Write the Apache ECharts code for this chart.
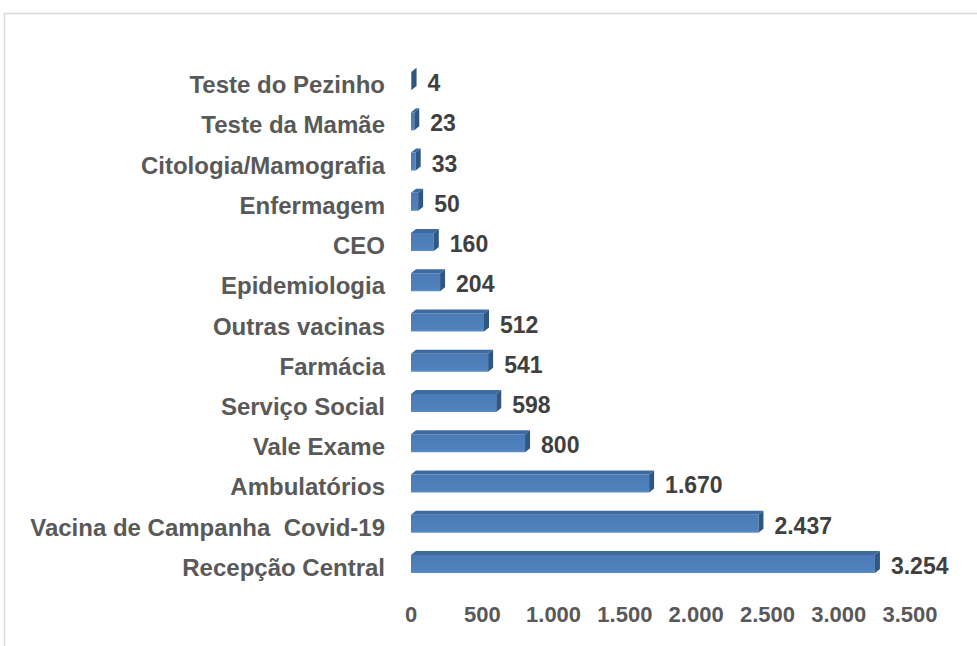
<!DOCTYPE html>
<html>
<head>
<meta charset="utf-8">
<script src="https://cdn.jsdelivr.net/npm/echarts@6/dist/echarts.min.js"></script>
<style>
  html, body { margin: 0; padding: 0; background: #fff; }
  #chart { width: 977px; height: 646px; }
</style>
</head>
<body>
<div id="chart"></div>
<script>
  // categorias (de cima para baixo) e valores
  var categories = ['Teste do Pezinho', 'Teste da Mamãe', 'Citologia/Mamografia', 'Enfermagem', 'CEO',
    'Epidemiologia', 'Outras vacinas', 'Farmácia', 'Serviço Social', 'Vale Exame', 'Ambulatórios',
    'Vacina de Campanha  Covid-19', 'Recepção Central'];
  var values = [4, 23, 33, 50, 160, 204, 512, 541, 598, 800, 1670, 2437, 3254];
  var axisTicks = [0, 500, 1000, 1500, 2000, 2500, 3000, 3500];

  function fmt(n) {
    return String(n).replace(/\B(?=(\d{3})+(?!\d))/g, '.');
  }

  var chart = echarts.init(document.getElementById('chart'), null, {renderer: 'svg'});
  var font = '"Liberation Sans", Arial, sans-serif';

  var option = {
    animation: false,
    graphic: [{
      type: 'rect',
      shape: {x: 4.5, y: 13.5, width: 1000, height: 700},
      style: {fill: 'none', stroke: '#d9d9d9', lineWidth: 1.5},
      silent: true
    }],
    grid: {left: 411, right: 67, top: 60, bottom: 63},
    xAxis: {
      type: 'value',
      min: axisTicks[0],
      max: axisTicks[axisTicks.length - 1],
      interval: 500,
      axisLine: {show: false},
      axisTick: {show: false},
      splitLine: {show: false},
      axisLabel: {
        margin: 20,
        color: '#595959',
        fontFamily: font,
        fontWeight: 'bold',
        fontSize: 22,
        formatter: function (v) { return fmt(v); }
      }
    },
    yAxis: {
      type: 'category',
      inverse: true,
      data: categories,
      axisLine: {show: false},
      axisTick: {show: false},
      axisLabel: {
        margin: 26,
        formatter: function (v) { return '{c|' + v + '}'; },
        rich: {
          c: {
            color: '#595959',
            fontFamily: font,
            fontWeight: 'bold',
            fontSize: 24,
            padding: [9, 0, 0, 0]
          }
        }
      }
    },
    series: [{
      type: 'custom',
      encode: {x: 0, y: 1},
      data: values.map(function (v, i) { return [v, i]; }),
      renderItem: function (params, api) {
        var val = api.value(0), idx = api.value(1);
        var p0 = api.coord([0, idx]);
        var p1 = api.coord([val, idx]);
        var h = 18, dx = 5, dy = 4;
        var x0 = p0[0], x1 = p1[0];
        var top = p0[1] - h / 2 + 1, bot = top + h;
        return {
          type: 'group',
          children: [{
            type: 'rect',
            shape: {x: x0, y: top, width: x1 - x0, height: h},
            style: {
              fill: new echarts.graphic.LinearGradient(0, 0, 0, 1, [
                {offset: 0, color: '#4a7bb7'},
                {offset: 0.85, color: '#4f81bd'},
                {offset: 1, color: '#5b8dca'}
              ])
            }
          }, {
            type: 'polygon',
            shape: {points: [[x0, top], [x0 + dx, top - dy], [x1 + dx, top - dy], [x1, top]]},
            style: {fill: '#3f6aa0'}
          }, {
            type: 'polygon',
            shape: {points: [[x1, top], [x1 + dx, top - dy], [x1 + dx, bot - dy], [x1, bot]]},
            style: {fill: '#2f5783'}
          }, {
            type: 'text',
            style: {
              x: x1 + dx + 11,
              y: p0[1] + 3,
              text: fmt(val),
              fill: '#404040',
              font: 'bold 23px ' + font,
              verticalAlign: 'middle',
              align: 'left'
            }
          }]
        };
      }
    }]
  };

  chart.setOption(option);
</script>
</body>
</html>
